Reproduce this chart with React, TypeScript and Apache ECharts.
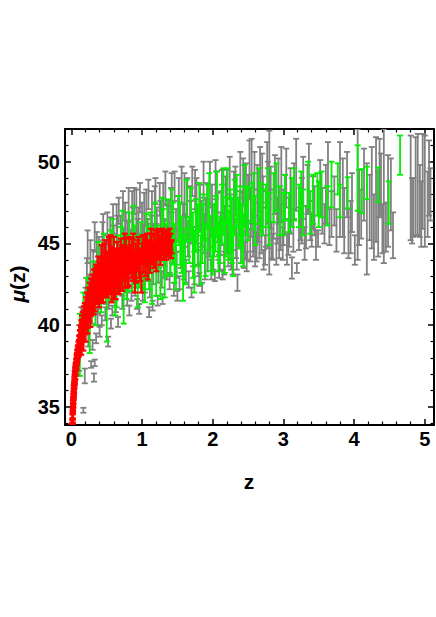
import React, { useEffect, useRef } from "react";
import * as echarts from "echarts";

// [z, mu, err]
const quasarPoints: number[][] = [
  [0.11, 38.6, 1.4], [0.14, 40.2, 0.9], [0.17, 34.8, 0.15], [0.19, 36.9, 0.45], [0.2, 41.3, 1.0],
  [0.22, 43.0, 1.1], [0.24, 39.3, 0.6], [0.25, 42.2, 0.9], [0.27, 44.0, 1.2], [0.28, 37.6, 0.2],
  [0.29, 40.8, 0.7], [0.3, 38.8, 0.3], [0.32, 36.8, 0.25], [0.33, 37.7, 0.2], [0.34, 42.9, 1.0],
  [0.35, 39.2, 0.3], [0.36, 44.6, 1.1], [0.38, 41.5, 0.8], [0.4, 39.6, 0.3], [0.41, 43.8, 1.0],
  [0.43, 40.3, 0.3], [0.44, 45.0, 1.3], [0.46, 42.6, 0.9], [0.48, 40.7, 0.4], [0.5, 44.3, 1.2],
  [0.52, 39.0, 0.3], [0.53, 41.6, 0.6], [0.55, 45.5, 1.1], [0.57, 43.4, 0.9], [0.58, 40.9, 0.3],
  [0.6, 44.8, 1.3], [0.62, 42.0, 0.5], [0.64, 46.2, 1.2], [0.66, 40.2, 0.3], [0.68, 43.9, 1.0],
  [0.7, 45.6, 1.1], [0.72, 41.4, 0.4], [0.74, 44.5, 1.4], [0.76, 46.5, 1.0], [0.78, 42.8, 0.6],
  [0.8, 45.1, 1.2], [0.82, 40.9, 0.3], [0.84, 43.7, 0.9], [0.86, 46.9, 1.3], [0.88, 44.9, 1.0],
  [0.9, 42.3, 0.5], [0.92, 46.8, 1.5], [0.94, 45.4, 1.1], [0.96, 41.0, 0.3], [0.98, 43.9, 0.8],
  [1.0, 46.3, 1.2], [1.02, 44.8, 1.3], [1.04, 42.6, 0.6], [1.06, 47.2, 1.1], [1.08, 45.5, 1.0],
  [1.1, 40.8, 0.3], [1.12, 44.1, 0.9], [1.14, 46.8, 1.4], [1.16, 43.2, 0.7], [1.18, 47.3, 1.2],
  [1.2, 45.2, 1.0], [1.22, 41.5, 0.3], [1.24, 44.6, 1.1], [1.26, 46.3, 1.3], [1.28, 42.8, 0.5],
  [1.3, 47.6, 1.1], [1.32, 45.0, 1.4], [1.35, 43.6, 0.8], [1.38, 46.6, 1.0], [1.4, 44.2, 1.2],
  [1.42, 48.1, 1.2], [1.45, 42.2, 0.4], [1.48, 45.8, 1.3], [1.5, 41.8, 0.3], [1.52, 47.4, 1.6],
  [1.55, 44.5, 1.0], [1.58, 46.2, 1.2], [1.6, 48.0, 1.3], [1.62, 43.3, 0.7], [1.65, 45.3, 1.1],
  [1.68, 47.0, 1.5], [1.7, 42.0, 0.3], [1.72, 44.8, 1.2], [1.75, 48.3, 1.2], [1.78, 46.0, 1.0],
  [1.8, 43.8, 0.8], [1.82, 47.2, 1.4], [1.85, 42.3, 0.3], [1.88, 45.6, 1.2], [1.9, 46.8, 0.9],
  [1.93, 44.3, 1.0], [1.96, 48.6, 1.4], [1.98, 43.4, 0.6], [2.0, 46.1, 1.3], [2.03, 43.0, 0.3],
  [2.05, 47.8, 1.6], [2.08, 45.0, 1.0], [2.1, 44.2, 0.9], [2.12, 47.0, 1.2], [2.14, 43.1, 0.3],
  [2.17, 45.9, 1.4], [2.2, 48.4, 1.1], [2.22, 44.6, 1.0], [2.25, 46.5, 1.5], [2.28, 43.6, 0.5],
  [2.3, 47.6, 1.8], [2.33, 45.3, 1.2], [2.35, 42.6, 0.5], [2.38, 46.9, 1.3], [2.4, 44.7, 0.9],
  [2.43, 48.8, 1.4], [2.46, 45.7, 1.6], [2.48, 43.9, 0.6], [2.5, 47.2, 2.0], [2.53, 44.9, 1.0],
  [2.55, 48.8, 2.6], [2.58, 46.0, 1.5], [2.6, 44.3, 0.7], [2.63, 47.6, 2.2], [2.66, 45.4, 1.3],
  [2.7, 49.0, 1.5], [2.72, 44.0, 0.6], [2.75, 46.5, 1.7], [2.78, 48.1, 1.9], [2.8, 47.5, 4.4],
  [2.83, 45.2, 1.1], [2.86, 46.8, 1.5], [2.9, 44.5, 0.8], [2.93, 48.2, 2.0], [2.96, 46.0, 1.4],
  [2.99, 45.0, 1.0], [3.02, 47.4, 1.8], [3.05, 44.6, 0.9], [3.08, 46.3, 1.5], [3.12, 43.5, 0.65],
  [3.15, 48.2, 1.7], [3.19, 43.5, 0.3], [3.22, 45.9, 1.3], [3.26, 47.0, 2.0], [3.3, 45.0, 1.0],
  [3.34, 48.3, 1.5], [3.38, 46.4, 1.2], [3.42, 47.5, 1.6], [3.46, 44.9, 0.9], [3.49, 45.3, 0.5],
  [3.55, 47.0, 1.4], [3.6, 48.0, 1.8], [3.65, 46.0, 1.1], [3.72, 47.6, 1.5], [3.8, 48.3, 2.9],
  [3.86, 46.4, 2.0], [3.92, 45.6, 1.5], [3.97, 47.5, 1.8], [4.01, 44.6, 0.9], [4.05, 48.0, 4.0],
  [4.1, 46.8, 1.5], [4.18, 46.5, 3.4], [4.22, 47.2, 2.0], [4.25, 47.8, 3.1], [4.31, 48.3, 3.2],
  [4.34, 46.8, 2.6], [4.38, 48.6, 1.9], [4.42, 47.9, 4.1], [4.45, 46.0, 1.5], [4.48, 47.6, 2.8],
  [4.55, 45.5, 1.4], [4.8, 48.4, 3.2], [4.84, 47.2, 1.8], [4.87, 48.5, 3.0], [4.9, 48.6, 3.1],
  [4.93, 47.6, 2.2], [4.97, 48.8, 2.9], [5.0, 48.2, 3.4], [5.04, 47.4, 2.0], [5.08, 48.0, 1.6],
  [0.21, 42.1, 0.8], [0.23, 44.8, 1.0], [0.26, 41.0, 0.6], [0.31, 43.6, 1.0], [0.33, 45.4, 0.9],
  [0.37, 40.5, 0.5], [0.39, 44.2, 1.2], [0.42, 42.4, 0.7], [0.45, 46.0, 0.8], [0.47, 43.8, 1.1],
  [0.49, 41.8, 0.5], [0.51, 45.9, 1.0], [0.54, 44.0, 1.2], [0.56, 40.1, 0.3], [0.59, 46.5, 0.9],
  [0.61, 43.6, 1.1], [0.63, 41.2, 0.4], [0.65, 45.5, 1.2], [0.67, 47.0, 0.8], [0.69, 42.5, 0.6],
  [0.71, 44.2, 1.0], [0.73, 47.3, 0.9], [0.75, 43.0, 0.8], [0.77, 45.8, 1.1], [0.79, 41.6, 0.4],
  [0.81, 47.4, 1.0], [0.83, 44.6, 1.2], [0.85, 42.0, 0.5], [0.87, 45.9, 1.3], [0.89, 47.6, 0.8],
  [0.91, 43.2, 0.9], [0.93, 41.3, 0.3], [0.95, 46.0, 1.2], [0.97, 47.8, 0.9], [0.99, 44.5, 1.1],
  [1.01, 42.0, 0.5], [1.03, 46.8, 1.3], [1.05, 43.5, 0.8], [1.07, 45.0, 1.2], [1.09, 48.0, 0.9],
  [1.11, 42.2, 0.5], [1.13, 45.7, 1.0], [1.15, 41.2, 0.3], [1.17, 44.9, 1.3], [1.19, 48.2, 0.8],
  [1.21, 46.0, 1.2], [1.23, 43.5, 0.9], [1.25, 47.7, 1.0], [1.27, 45.6, 1.4], [1.29, 41.6, 0.3],
  [1.31, 44.0, 1.1], [1.33, 48.4, 1.0], [1.36, 46.0, 1.3], [1.39, 42.7, 0.5], [1.41, 47.0, 1.4],
  [1.43, 44.8, 1.0], [1.46, 48.5, 0.9], [1.49, 43.7, 0.8], [1.51, 46.5, 1.4], [1.53, 42.6, 0.4],
  [1.56, 48.6, 1.1], [1.59, 44.0, 1.2], [1.61, 45.8, 1.0], [1.64, 47.8, 1.2], [1.66, 42.8, 0.5],
  [1.69, 46.3, 1.3], [1.71, 48.8, 0.9], [1.74, 43.5, 1.0], [1.77, 47.5, 1.5], [1.79, 44.9, 1.2],
  [1.81, 42.8, 0.4], [1.84, 46.2, 1.4], [1.87, 48.9, 1.1], [1.89, 44.0, 1.2], [1.92, 47.4, 1.3],
  [1.95, 45.2, 1.0], [1.99, 47.0, 1.6], [2.01, 44.4, 1.0], [2.04, 48.9, 1.2], [2.07, 46.6, 1.5],
  [2.09, 43.6, 0.7], [2.11, 45.6, 1.3], [2.13, 48.0, 1.5], [2.16, 44.0, 0.9], [2.18, 47.3, 1.8],
  [2.21, 45.4, 1.0], [2.24, 49.0, 1.3], [2.26, 44.2, 0.8], [2.29, 46.2, 1.6], [2.32, 48.2, 1.5],
  [2.34, 44.5, 1.1], [2.37, 45.9, 1.2], [2.39, 49.2, 1.4], [2.42, 46.4, 1.7], [2.44, 44.3, 0.8],
  [2.47, 47.8, 2.1], [2.49, 45.2, 1.2], [2.52, 49.5, 1.8], [2.54, 46.9, 1.5], [2.57, 45.6, 1.4],
  [2.59, 48.4, 2.2], [2.62, 44.8, 0.9], [2.64, 46.7, 1.6], [2.67, 48.9, 2.0], [2.69, 45.8, 1.4],
  [2.71, 47.3, 1.8], [2.74, 44.6, 0.9], [2.77, 49.2, 2.0], [2.79, 46.2, 1.5], [2.82, 47.8, 1.9],
  [2.85, 44.8, 0.8], [2.88, 48.6, 1.8], [2.91, 46.4, 1.4], [2.94, 45.3, 1.2], [2.97, 48.6, 2.3],
  [3.0, 46.6, 1.7], [3.04, 49.0, 1.8], [3.07, 45.4, 1.1], [3.1, 47.6, 2.0], [3.14, 45.8, 1.3],
  [3.18, 49.2, 2.2], [3.24, 46.8, 1.6], [3.28, 48.4, 1.9], [3.32, 46.0, 1.3], [3.36, 49.0, 2.1],
  [3.4, 45.8, 1.0], [3.44, 47.0, 1.5], [3.52, 48.4, 1.7], [3.58, 46.2, 1.2], [3.63, 49.2, 2.0],
  [3.68, 46.8, 1.4], [3.75, 45.8, 1.3], [3.84, 47.8, 2.4], [3.9, 48.6, 2.0], [3.95, 46.0, 1.6],
  [4.07, 47.2, 2.3], [4.14, 48.6, 2.2], [4.28, 46.0, 2.0], [4.36, 49.0, 2.4], [4.4, 45.9, 1.5],
  [4.52, 48.0, 2.2], [4.82, 47.0, 2.0], [4.95, 46.8, 2.0], [5.06, 49.0, 2.3],
];

const grbPoints: number[][] = [
  [0.12, 38.8, 1.9], [0.17, 40.5, 1.5], [0.22, 41.3, 1.6], [0.26, 40.3, 2.0], [0.3, 42.5, 1.4],
  [0.34, 41.8, 1.8], [0.38, 43.6, 1.5], [0.42, 42.0, 1.2], [0.46, 44.0, 1.6], [0.5, 40.8, 1.8],
  [0.54, 43.0, 1.5], [0.58, 45.2, 1.3], [0.62, 41.7, 1.1], [0.66, 43.8, 1.7], [0.7, 44.6, 1.4],
  [0.74, 41.6, 1.5], [0.78, 42.9, 1.3], [0.82, 45.3, 1.6], [0.86, 43.3, 1.2], [0.9, 44.3, 1.8],
  [0.94, 42.5, 1.4], [0.98, 45.0, 1.3], [1.02, 43.8, 1.6], [1.06, 45.6, 1.2], [1.1, 44.1, 1.9],
  [1.14, 42.6, 1.3], [1.18, 46.0, 1.5], [1.22, 44.7, 1.4], [1.26, 43.4, 1.8], [1.3, 45.5, 1.6],
  [1.32, 43.4, 1.7], [1.36, 46.3, 1.4], [1.4, 44.4, 1.3], [1.44, 45.6, 1.9], [1.48, 43.7, 1.5],
  [1.52, 46.4, 1.5], [1.56, 44.9, 1.7], [1.58, 43.5, 2.0], [1.63, 47.0, 1.9], [1.67, 45.2, 1.4],
  [1.72, 44.9, 2.0], [1.76, 46.1, 1.6], [1.79, 45.5, 1.9], [1.83, 44.0, 1.5], [1.87, 46.6, 1.4],
  [1.93, 46.6, 2.0], [1.97, 45.0, 1.7], [2.02, 45.8, 1.6], [2.06, 47.4, 2.0], [2.1, 45.2, 1.4],
  [2.15, 47.6, 2.0], [2.19, 46.0, 1.8], [2.23, 45.5, 1.5], [2.27, 45.8, 2.0], [2.31, 47.2, 1.7],
  [2.36, 46.3, 1.4], [2.41, 45.6, 1.8], [2.45, 47.9, 1.9], [2.5, 46.8, 1.6], [2.55, 47.5, 1.2],
  [2.6, 46.4, 1.5], [2.65, 47.9, 1.7], [2.7, 46.9, 1.4], [2.75, 47.3, 1.3], [2.8, 46.5, 1.6],
  [2.86, 47.8, 1.5], [2.9, 48.45, 1.45], [2.95, 47.0, 1.5], [3.02, 47.8, 1.4], [3.08, 46.9, 1.2],
  [3.15, 48.0, 1.6], [3.22, 47.3, 1.3], [3.28, 46.9, 1.4], [3.35, 48.6, 1.4], [3.42, 47.7, 1.5],
  [3.48, 48.0, 1.3], [3.54, 48.0, 1.4], [3.62, 47.3, 1.2], [3.68, 48.6, 1.4], [3.77, 48.95, 0.95],
  [3.8, 47.6, 1.0], [3.91, 48.1, 0.95], [4.05, 49.0, 2.0], [4.11, 48.2, 1.35], [4.18, 48.7, 1.0],
  [4.34, 48.6, 1.05], [4.49, 47.5, 1.3], [4.65, 50.4, 1.2],
  [0.56, 44.2, 1.6], [0.64, 42.6, 1.5], [0.72, 45.6, 1.4], [0.8, 43.8, 1.7], [0.88, 45.8, 1.5],
  [0.96, 43.9, 1.6], [1.04, 42.9, 1.5], [1.12, 45.2, 1.7], [1.2, 43.6, 1.8], [1.28, 46.4, 1.4],
  [1.34, 44.6, 1.6], [1.42, 46.8, 1.5], [1.46, 44.4, 1.8], [1.54, 45.6, 1.9], [1.61, 44.2, 1.7],
  [1.69, 46.8, 1.6], [1.74, 43.9, 1.9], [1.81, 47.2, 1.5], [1.85, 45.6, 1.8], [1.9, 44.6, 1.6],
  [1.95, 47.6, 1.7], [2.0, 44.5, 1.4], [2.04, 46.2, 1.7], [2.08, 44.8, 1.5], [2.13, 46.8, 1.8],
  [2.17, 44.8, 1.6], [2.21, 47.9, 1.7], [2.25, 46.4, 1.9], [2.29, 44.5, 1.5], [2.34, 47.6, 1.6],
  [2.39, 46.6, 1.9], [2.43, 45.2, 1.6], [2.48, 47.0, 1.5], [2.58, 47.6, 1.7], [2.68, 47.2, 1.5],
  [2.78, 48.0, 1.6], [3.0, 46.8, 1.3], [3.12, 47.5, 1.5], [3.25, 48.0, 1.4], [3.38, 46.9, 1.3],
  [3.5, 47.4, 1.4],
];

const snPoints: number[][] = [
  [0.010, 33.2, 0.3], [0.012, 33.7, 0.25], [0.013, 33.5, 0.3], [0.015, 34.1, 0.2], [0.016, 33.9, 0.3],
  [0.018, 34.5, 0.25], [0.019, 34.3, 0.3], [0.021, 34.8, 0.2], [0.022, 35.1, 0.3], [0.024, 35.0, 0.25],
  [0.025, 35.4, 0.2], [0.027, 35.3, 0.3], [0.029, 35.7, 0.25], [0.031, 35.6, 0.2], [0.033, 36.0, 0.3],
  [0.035, 35.8, 0.25], [0.037, 36.3, 0.2], [0.04, 36.2, 0.3], [0.042, 36.6, 0.25], [0.045, 36.5, 0.2],
  [0.048, 36.9, 0.3], [0.05, 36.7, 0.25], [0.053, 37.2, 0.2], [0.056, 37.0, 0.3], [0.06, 37.4, 0.25],
  [0.063, 37.3, 0.3], [0.067, 37.7, 0.25], [0.07, 37.5, 0.2], [0.074, 37.9, 0.3], [0.078, 37.8, 0.25],
  [0.082, 38.2, 0.3], [0.086, 38.0, 0.2], [0.09, 38.4, 0.3], [0.095, 38.3, 0.25], [0.1, 38.7, 0.3],
  [0.105, 38.4, 0.3], [0.11, 39.0, 0.35], [0.115, 38.6, 0.3], [0.12, 39.3, 0.4], [0.125, 38.9, 0.3],
  [0.13, 39.6, 0.4], [0.135, 39.1, 0.3], [0.14, 38.5, 0.3], [0.14, 39.9, 0.4], [0.145, 39.4, 0.35],
  [0.15, 40.2, 0.4], [0.155, 39.6, 0.3], [0.16, 40.4, 0.4], [0.17, 38.8, 0.35], [0.17, 39.8, 0.3],
  [0.175, 40.7, 0.45], [0.18, 40.1, 0.35], [0.19, 40.9, 0.45], [0.2, 39.4, 0.4], [0.2, 40.3, 0.35],
  [0.21, 41.2, 0.5], [0.215, 40.5, 0.3], [0.22, 41.5, 0.5], [0.23, 39.9, 0.4], [0.23, 40.8, 0.35],
  [0.24, 41.8, 0.5], [0.25, 41.0, 0.4], [0.26, 42.1, 0.5], [0.27, 40.3, 0.4], [0.27, 41.3, 0.35],
  [0.28, 42.3, 0.55], [0.29, 41.5, 0.4], [0.3, 42.6, 0.5], [0.31, 41.6, 0.4], [0.32, 42.8, 0.6],
  [0.33, 41.2, 0.35], [0.34, 42.2, 0.5], [0.35, 43.1, 0.6], [0.36, 41.8, 0.4], [0.37, 42.6, 0.5],
  [0.38, 43.5, 0.7], [0.39, 41.5, 0.4], [0.4, 42.3, 0.5], [0.41, 43.2, 0.6], [0.42, 42.0, 0.4],
  [0.43, 44.0, 0.9], [0.44, 42.7, 0.5], [0.45, 41.8, 0.4], [0.46, 43.5, 0.7], [0.47, 42.4, 0.5],
  [0.48, 44.3, 0.9], [0.49, 43.0, 0.5], [0.5, 42.1, 0.4], [0.51, 43.7, 0.7], [0.52, 42.7, 0.5],
  [0.53, 44.4, 1.0], [0.54, 43.2, 0.6], [0.55, 42.3, 0.4], [0.56, 44.0, 0.8], [0.57, 41.9, 0.5],
  [0.58, 43.5, 0.6], [0.59, 42.8, 0.5], [0.6, 44.5, 0.9], [0.61, 43.1, 0.5], [0.62, 42.2, 0.6],
  [0.63, 43.8, 0.6], [0.64, 42.8, 0.5], [0.65, 44.3, 0.8], [0.66, 43.3, 0.5], [0.67, 42.5, 0.6],
  [0.68, 44.0, 0.7], [0.69, 43.0, 0.5], [0.7, 44.6, 0.7], [0.71, 43.5, 0.5], [0.72, 42.7, 0.6],
  [0.73, 44.2, 0.7], [0.74, 43.2, 0.5], [0.75, 43.9, 0.6], [0.76, 42.9, 0.6], [0.77, 44.5, 0.8],
  [0.78, 43.6, 0.5], [0.8, 44.1, 0.6], [0.81, 43.0, 0.6], [0.82, 44.4, 1.0], [0.84, 43.7, 0.5],
  [0.86, 44.6, 0.7], [0.87, 43.3, 0.6], [0.88, 44.1, 0.5], [0.9, 42.7, 0.7], [0.91, 44.4, 0.6],
  [0.93, 43.8, 0.5], [0.95, 44.7, 0.7], [0.96, 43.5, 0.6], [0.98, 44.2, 0.5], [0.99, 42.6, 0.6],
  [1.0, 44.4, 0.6], [1.02, 43.8, 0.5], [1.04, 44.8, 0.7], [1.06, 44.1, 0.5], [1.08, 43.4, 0.6],
  [1.1, 44.6, 0.6], [1.12, 44.9, 0.7], [1.14, 44.2, 0.5], [1.16, 45.0, 0.6], [1.18, 44.5, 0.5],
  [1.2, 43.9, 0.6], [1.22, 45.1, 0.6], [1.24, 44.7, 0.5], [1.26, 44.3, 0.6], [1.28, 45.2, 0.6],
  [1.3, 44.8, 0.5], [1.32, 45.0, 0.6], [1.34, 44.5, 0.5], [1.36, 45.3, 0.5], [1.38, 44.9, 0.6],
  [1.4, 45.1, 0.5], [1.42, 44.8, 0.4],
  [0.011, 33.4, 0.25], [0.014, 33.8, 0.2], [0.017, 34.3, 0.25], [0.02, 34.6, 0.3], [0.023, 34.9, 0.2],
  [0.026, 35.2, 0.25], [0.03, 35.5, 0.3], [0.034, 35.9, 0.25], [0.038, 36.1, 0.3], [0.044, 36.4, 0.25],
  [0.047, 36.7, 0.3], [0.052, 36.9, 0.25], [0.058, 37.2, 0.3], [0.065, 37.5, 0.25], [0.072, 37.6, 0.3],
  [0.08, 38.0, 0.3], [0.088, 38.2, 0.25], [0.098, 38.5, 0.3], [0.108, 38.8, 0.3], [0.118, 39.1, 0.3],
  [0.128, 39.3, 0.35], [0.138, 39.6, 0.3], [0.148, 39.8, 0.35], [0.158, 40.0, 0.35], [0.165, 39.3, 0.3],
  [0.185, 40.5, 0.4], [0.195, 39.8, 0.35], [0.205, 40.8, 0.4], [0.225, 41.1, 0.4], [0.235, 40.2, 0.35],
  [0.245, 41.4, 0.45], [0.255, 40.6, 0.35], [0.265, 41.7, 0.45], [0.275, 40.9, 0.35], [0.285, 41.9, 0.45],
  [0.295, 41.1, 0.4], [0.305, 42.1, 0.5], [0.315, 41.0, 0.35], [0.325, 42.4, 0.5], [0.335, 41.7, 0.4],
  [0.345, 42.9, 0.6], [0.355, 42.0, 0.45], [0.365, 43.0, 0.55], [0.375, 41.9, 0.45], [0.385, 42.5, 0.5],
  [0.395, 43.3, 0.6], [0.405, 42.7, 0.5], [0.415, 41.8, 0.45], [0.425, 43.5, 0.6], [0.435, 42.2, 0.45],
  [0.455, 43.0, 0.55], [0.465, 44.2, 0.8], [0.475, 43.3, 0.5], [0.485, 42.3, 0.5], [0.495, 43.9, 0.6],
  [0.515, 42.4, 0.5], [0.525, 43.4, 0.55], [0.545, 42.6, 0.5], [0.555, 44.6, 0.9], [0.565, 43.0, 0.5],
  [0.585, 44.1, 0.6], [0.595, 42.1, 0.5], [0.615, 43.9, 0.6], [0.625, 43.2, 0.5], [0.645, 44.0, 0.6],
  [0.655, 42.6, 0.55], [0.675, 43.7, 0.5], [0.695, 42.8, 0.6], [0.715, 44.3, 0.6], [0.735, 43.5, 0.5],
  [0.755, 44.8, 0.8], [0.765, 43.4, 0.5], [0.785, 44.2, 0.6], [0.795, 42.9, 0.6], [0.815, 43.8, 0.5],
  [0.835, 44.3, 0.6], [0.855, 43.4, 0.5], [0.875, 44.9, 0.7], [0.895, 43.9, 0.5], [0.915, 43.2, 0.6],
  [0.935, 44.6, 0.6], [0.955, 44.0, 0.5], [0.975, 43.3, 0.6], [1.01, 44.9, 0.6], [1.03, 44.3, 0.5],
  [1.05, 43.6, 0.6], [1.07, 45.0, 0.6], [1.09, 44.4, 0.5], [1.11, 43.8, 0.6], [1.13, 45.3, 0.6],
  [1.15, 44.6, 0.5], [1.17, 44.1, 0.6], [1.19, 45.2, 0.6], [1.21, 44.5, 0.5], [1.23, 45.4, 0.5],
  [1.25, 44.9, 0.6], [1.27, 44.6, 0.5], [1.29, 45.4, 0.5], [1.31, 44.6, 0.6], [1.33, 45.2, 0.5],
  [1.35, 44.8, 0.6], [1.37, 45.1, 0.5], [1.39, 45.4, 0.5], [1.41, 44.6, 0.5],
];

const xTickLabels = ["0", "1", "2", "3", "4", "5"];
const yTickLabels = ["35", "40", "45", "50"];

const FONT = "'Liberation Sans', Arial, sans-serif";

function errorBarSeries(name: string, data: number[][], color: string, z: number, lw: number) {
  return {
    type: "custom",
    name,
    data,
    z,
    clip: true,
    encode: { x: 0, y: 1 },
    renderItem: (_params: any, api: any) => {
      const x = api.value(0);
      const y = api.value(1);
      const e = api.value(2);
      const top = api.coord([x, y + e]);
      const bot = api.coord([x, y - e]);
      const hw = 3;
      const style = { stroke: color, lineWidth: lw };
      return {
        type: "group",
        children: [
          { type: "line", shape: { x1: top[0], y1: top[1], x2: bot[0], y2: bot[1] }, style },
          { type: "line", shape: { x1: top[0] - hw, y1: top[1], x2: top[0] + hw, y2: top[1] }, style },
          { type: "line", shape: { x1: bot[0] - hw, y1: bot[1], x2: bot[0] + hw, y2: bot[1] }, style },
        ],
      };
    },
  };
}

export default function App() {
  const ref = useRef<HTMLDivElement>(null);
  useEffect(() => {
    document.body.style.margin = "0";
    if (!ref.current) return;
    const chart = echarts.init(ref.current, null, { renderer: "svg" });
    const axisLine = { show: true, onZero: false, lineStyle: { color: "#000", width: 2 } };
    const axisTick = { show: true, inside: true, length: 6, lineStyle: { color: "#000", width: 1.5 } };
    const minorTick = { show: true, splitNumber: 5, length: 3.5, lineStyle: { color: "#000", width: 1.2 } };
    const xFmt = (v: number) => {
      const r = Math.round(v);
      return Math.abs(v - r) < 1e-6 && xTickLabels.includes(String(r)) ? String(r) : "";
    };
    const yFmt = (v: number) => {
      const r = Math.round(v);
      return Math.abs(v - r) < 1e-6 && yTickLabels.includes(String(r)) ? String(r) : "";
    };
    const labelStyle = { color: "#000", fontSize: 20, fontWeight: "bold", fontFamily: FONT };
    chart.setOption({
      animation: false,
      backgroundColor: "#fff",
      grid: { left: 65, right: 2, top: 129, bottom: 192, containLabel: false },
      xAxis: [
        {
          type: "value", min: -0.09, max: 5.13, splitNumber: 5, position: "bottom",
          axisLine, axisTick, minorTick, splitLine: { show: false },
          axisLabel: { ...labelStyle, margin: 4, formatter: xFmt, showMinLabel: false, showMaxLabel: false },
        },
        {
          type: "value", min: -0.09, max: 5.13, splitNumber: 5, position: "top",
          axisLine, axisTick, minorTick, splitLine: { show: false }, axisLabel: { show: false },
        },
      ],
      yAxis: [
        {
          type: "value", min: 33.9, max: 52.0, splitNumber: 4, position: "left",
          axisLine, axisTick, minorTick, splitLine: { show: false },
          axisLabel: { ...labelStyle, margin: 5, formatter: yFmt, showMinLabel: false, showMaxLabel: false },
        },
        {
          type: "value", min: 33.9, max: 52.0, splitNumber: 4, position: "right",
          axisLine, axisTick, minorTick, splitLine: { show: false }, axisLabel: { show: false },
        },
      ],
      series: [
        errorBarSeries("QSO", quasarPoints, "#808080", 2, 1.8),
        errorBarSeries("GRB", grbPoints, "#00f000", 3, 1.8),
        errorBarSeries("SNe", snPoints, "#ff0000", 4, 2.2),
      ],
      graphic: [
        {
          type: "text", x: 17, y: 284, rotation: Math.PI / 2, z: 10,
          style: {
            text: "{m|μ}(z)", fill: "#000", font: `bold 21px ${FONT}`,
            textAlign: "center", textVerticalAlign: "middle",
            rich: { m: { fontStyle: "italic", fontWeight: "bold", fontSize: 21, fontFamily: FONT, fill: "#000" } },
          },
        },
        {
          type: "text", x: 249, y: 481, z: 10,
          style: { text: "z", fill: "#000", font: `bold 21px ${FONT}`, textAlign: "center", textVerticalAlign: "middle" },
        },
      ],
    });
    return () => chart.dispose();
  }, []);
  return <div ref={ref} style={{ width: 436, height: 617 }} />;
}
